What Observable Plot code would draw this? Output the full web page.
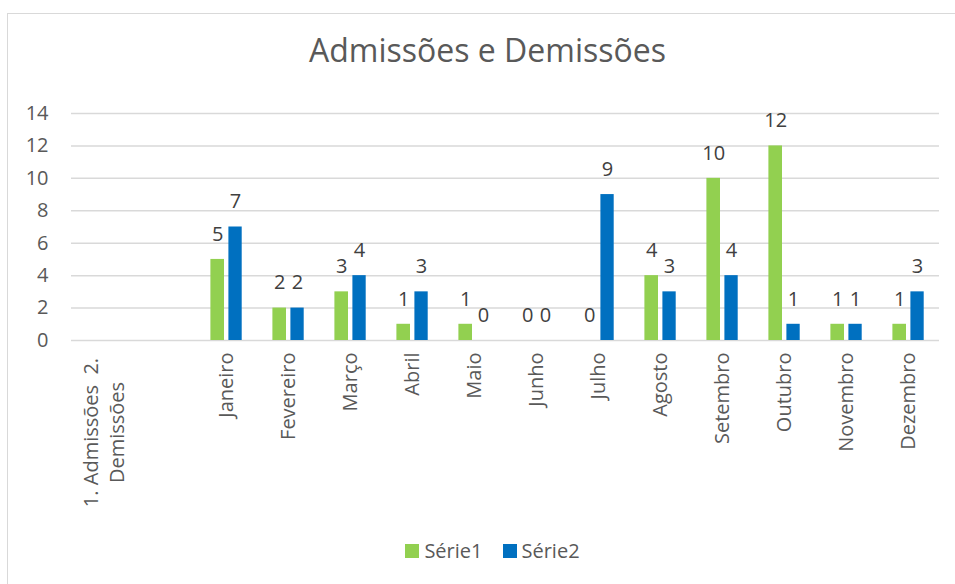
<!DOCTYPE html>
<html>
<head>
<meta charset="utf-8">
<script src="https://cdn.jsdelivr.net/npm/d3@7"></script>
<script src="https://cdn.jsdelivr.net/npm/@observablehq/plot@0.6"></script>
<style>
  html, body { margin: 0; padding: 0; background: #fff; }
  #wrap { position: relative; width: 955px; height: 584px; overflow: hidden; font-family: "Open Sans", sans-serif; }
  #frame { position: absolute; left: 7px; top: 13px; width: 2000px; height: 2000px; border-left: 1.5px solid #d9d9d9; border-top: 1.5px solid #d9d9d9; }
  #title { position: absolute; left: 0; width: 975px; top: 34px; text-align: center; font-size: 32px; color: #595959; line-height: 1; }
  #chart { position: absolute; left: 0; top: 0; }
  #legend { position: absolute; top: 537px; left: 0; width: 985px; display: flex; justify-content: center; font-size: 20px; color: #595959; }
  .item { display: flex; align-items: center; margin: 0 10px; }
  .sw { width: 14px; height: 14px; margin-right: 5px; }
</style>
</head>
<body>
<div id="wrap">
  <div id="frame"></div>
  <div id="title">Admissões e Demissões</div>
  <div id="chart"></div>
  <div id="legend"></div>
</div>
<script>
const categories = ["1. Admissões  2.\nDemissões", " ", "Janeiro", "Fevereiro", "Março", "Abril", "Maio", "Junho", "Julho", "Agosto", "Setembro", "Outubro", "Novembro", "Dezembro"];
const serie1 = [null, null, 5, 2, 3, 1, 1, 0, 0, 4, 10, 12, 1, 1];
const serie2 = [null, null, 7, 2, 4, 3, 0, 0, 9, 3, 4, 1, 1, 3];
const seriesNames = ["Série1", "Série2"];
const seriesColors = ["#92d050", "#0070c0"];
const yTicks = [0, 2, 4, 6, 8, 10, 12, 14];

const rows1 = categories.map((c, i) => ({cat: c, value: serie1[i]})).filter(d => d.value != null);
const rows2 = categories.map((c, i) => ({cat: c, value: serie2[i]})).filter(d => d.value != null);
const multiLine = categories.filter(c => c.includes("\n"));

const chart = Plot.plot({
  width: 955,
  height: 584,
  marginLeft: 71,
  marginRight: 16,
  marginTop: 113,
  marginBottom: 244,
  style: {fontFamily: "Open Sans, sans-serif", fontSize: "20px", color: "#595959", background: "transparent"},
  x: {domain: categories, padding: 0, label: null},
  y: {domain: [0, 14], label: null},
  marks: [
    Plot.ruleY(yTicks, {stroke: "#d9d9d9", strokeWidth: 1.5}),
    Plot.barY(rows1, {x: "cat", y: "value", fill: seriesColors[0], insetLeft: 15.4, insetRight: 33}),
    Plot.barY(rows2, {x: "cat", y: "value", fill: seriesColors[1], insetLeft: 33.4, insetRight: 15.3}),
    Plot.text(rows1, {x: "cat", y: "value", text: d => String(d.value), dx: -8.8, dy: -25, fill: "#404040", fontSize: 20, lineAnchor: "middle"}),
    Plot.text(rows2, {x: "cat", y: "value", text: d => String(d.value), dx: 9, dy: -25, fill: "#404040", fontSize: 20, lineAnchor: "middle"}),
    Plot.axisY({ticks: yTicks, tickSize: 0, tickPadding: 23, fontSize: 20, fill: "#595959", label: null}),
    Plot.axisX({tickSize: 0, tickPadding: 12, tickRotate: -90, fontSize: 20, fill: "#595959", label: null,
      tickFormat: d => d.includes("\n") ? "" : d}),
    Plot.text(multiLine, {x: d => d, text: d => d.replace("  ", "\u00a0 "), frameAnchor: "bottom", dy: 92,
      rotate: -90, textAnchor: "middle", lineAnchor: "middle", lineHeight: 1.3, fontSize: 20, fill: "#595959"})
  ]
});
document.getElementById("chart").appendChild(chart);

const legend = document.getElementById("legend");
seriesNames.forEach((n, i) => {
  const item = document.createElement("div");
  item.className = "item";
  const sw = document.createElement("div");
  sw.className = "sw";
  sw.style.background = seriesColors[i];
  const t = document.createElement("span");
  t.textContent = n;
  item.appendChild(sw);
  item.appendChild(t);
  legend.appendChild(item);
});
</script>
</body>
</html>
